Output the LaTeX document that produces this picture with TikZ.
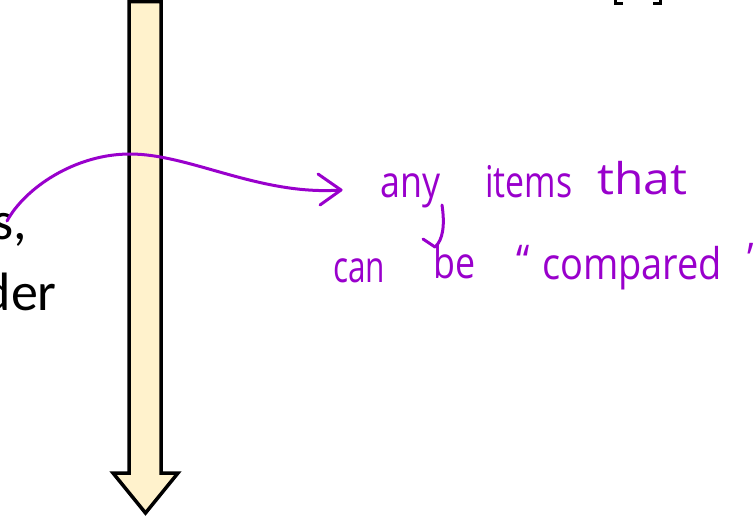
\documentclass[tikz,border=0pt]{standalone}
\usepackage{fontspec}
\setmainfont{Carlito}
\newfontfamily\handfont{Open Sans}
\usepackage{graphicx}
\definecolor{pen}{RGB}{153,0,204}
\definecolor{cream}{RGB}{255,242,204}
\newcommand\hwword[2]{\resizebox{#1}{1.15\height}{#2}}
\newcommand\hwquote[1]{\scalebox{1}[1.15]{#1}}
\begin{document}
\begin{tikzpicture}[x=1pt,y=-1pt,
  blocktext/.style={font=\fontsize{54}{54}\selectfont, inner sep=0pt, anchor=base east},
  hand/.style={text=pen, font=\handfont\fontsize{38}{38}\selectfont, inner sep=0pt, anchor=base west},
  penline/.style={draw=pen, line width=3pt, line cap=round, line join=round},
  blockarrow/.style={draw=black, fill=cream, line width=3.5pt, line join=miter}]
\path[use as bounding box, clip] (0,0) rectangle (754,519);

% block arrow
\draw[blockarrow] (129,1.7) -- (161,1.7) -- (161,473) -- (178,473) -- (145.5,513)
  -- (113,473) -- (129,473) -- cycle;

% bracket fragments at top right
\draw[line width=3pt] (615,-3) -- (615,4) -- (623,4);
\draw[line width=3pt] (660,-3) -- (660,4) -- (653,4);

% black text fragments
\node[blocktext] (s1) at (27,239) {s,};
\node[blocktext] (s2) at (57,310) {der};

% handwritten annotation
\node[hand] (w1) at (380,197) {\hwword{60pt}{any}};
\node[hand] (w2) at (485,197) {\hwword{87pt}{items}};
\node[hand] (w3) at (597,194) {\hwword{90pt}{that}};
\node[hand] (w4) at (333,282) {\hwword{52pt}{can}};
\node[hand] (w5) at (433,278) {\hwword{42pt}{be}};
\node[hand] (w6) at (516,276) {\hwquote{“}};
\node[hand] (w7) at (542,279) {\hwword{180pt}{compared}};
\node[hand] (w8) at (747,274) {\hwquote{”}};

% curved connector
\coordinate (cs) at (7,221);
\coordinate (ce) at (341,190);
\coordinate (ca) at (318,174);
\coordinate (cb) at (320,205);
\draw[penline] (cs) .. controls (25,188) and (75,154) .. (130,154)
  .. controls (190,154) and (260,196) .. (ce);
\draw[penline] (ca) -- (ce) -- (cb);

% descender arrow from "any" to "be"
\coordinate (ys) at (442,205);
\coordinate (yt) at (435,247);
\coordinate (ya) at (423,239);
\draw[penline] (ys) .. controls (445,225) and (443,240) .. (yt);
\draw[penline] (ya) -- (yt);
\end{tikzpicture}
\end{document}
